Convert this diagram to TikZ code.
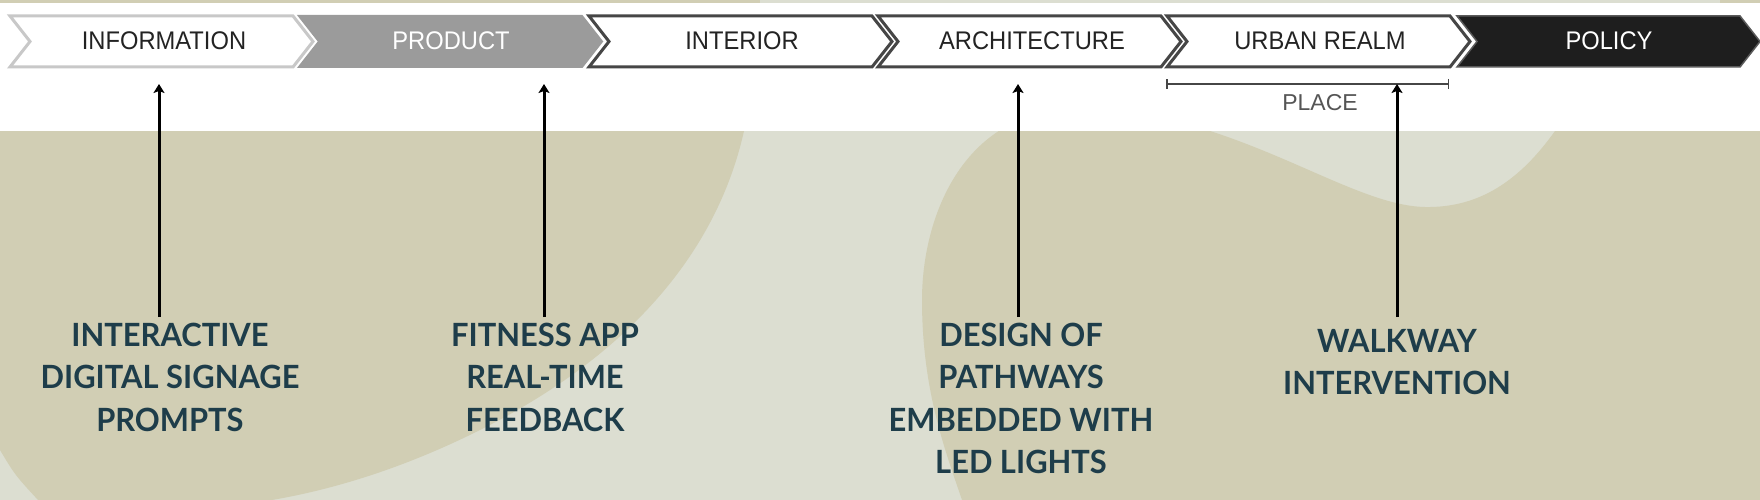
\documentclass[tikz,border=0pt]{standalone}
\usepackage{fontspec}
\setmainfont{Liberation Sans}
\newfontfamily\chevfont[FakeStretch=0.93]{Liberation Sans}
\newfontfamily\labfont[FakeStretch=0.965]{Lato}
\usetikzlibrary{arrows.meta}
\definecolor{khaki}{RGB}{209,206,180}
\definecolor{pale}{RGB}{220,222,209}
\definecolor{labcol}{RGB}{30,61,74}
\definecolor{lightedge}{RGB}{200,200,200}
\definecolor{darkedge}{RGB}{70,70,70}
\definecolor{prodgray}{RGB}{155,155,155}
\definecolor{polblack}{RGB}{30,30,30}
\definecolor{poledge}{RGB}{90,90,90}
\definecolor{placegray}{RGB}{85,85,85}
\definecolor{chevtextcol}{RGB}{35,35,35}
\begin{document}
\begin{tikzpicture}[x=1pt,y=-1pt,
  chevlight/.style={fill=white,draw=lightedge,line width=3pt,line join=miter},
  chevgray/.style={fill=prodgray,draw=prodgray,line width=2pt,line join=miter},
  chevdark/.style={fill=white,draw=darkedge,line width=3pt,line join=miter},
  chevblack/.style={fill=polblack,draw=poledge,line width=1.5pt,line join=miter},
  chevtext/.style={font=\chevfont\fontsize{25.5}{28}\selectfont,inner sep=0pt,text=chevtextcol},
  labtext/.style={font=\labfont\bfseries\fontsize{32}{42.5}\selectfont,text=labcol,align=center,anchor=north,inner xsep=0pt},
  arr/.style={line width=3pt,-{Stealth[length=9pt,width=11pt,inset=2pt]}},
  bracket/.style={line width=1.5pt,draw=darkedge,{Bar[width=10pt]}-{Bar[width=10pt]}},
]
\useasboundingbox (0,0) rectangle (1760,500);
% background
\fill[pale] (0,0) rectangle (1760,500);
% left blob
\fill[khaki] (0,120) -- (750,120) -- (744,131) .. controls (715,260) and (620,360) .. (480,430)
  .. controls (400,470) and (330,490) .. (272,500) -- (38,500) .. controls (15,475) .. (0,450) -- cycle;
% right blob with dip
\fill[khaki] (1060,110) .. controls (960,120) and (922,220) .. (922,300)
  .. controls (922,390) and (945,450) .. (962,500) -- (1760,500) -- (1760,120) -- (1560,120) -- (1555,131)
  .. controls (1520,180) and (1480,208) .. (1425,207)
  .. controls (1370,206) and (1300,160) .. (1210,131) -- (1200,110) -- cycle;
% white band and top strip
\fill[white] (0,3) rectangle (1760,131);
\fill[khaki] (0,0) rectangle (760,3);
\fill[khaki] (1720,0) rectangle (1760,3);
% chevrons
\path[chevlight] (10,16) -- ++(283,0) -- ++(20,25.5) -- ++(-20,25.5) -- ++(-283,0) -- ++(20,-25.5) -- cycle;
\path[chevgray] (299,16) -- ++(283,0) -- ++(20,25.5) -- ++(-20,25.5) -- ++(-283,0) -- ++(20,-25.5) -- cycle;
\path[chevdark] (589,16) -- ++(283,0) -- ++(20,25.5) -- ++(-20,25.5) -- ++(-283,0) -- ++(20,-25.5) -- cycle;
\path[chevdark] (878,16) -- ++(283,0) -- ++(20,25.5) -- ++(-20,25.5) -- ++(-283,0) -- ++(20,-25.5) -- cycle;
\path[chevdark] (1167,16) -- ++(283,0) -- ++(20,25.5) -- ++(-20,25.5) -- ++(-283,0) -- ++(20,-25.5) -- cycle;
\path[chevblack] (1457,16) -- ++(283,0) -- ++(20,25.5) -- ++(-20,25.5) -- ++(-283,0) -- ++(20,-25.5) -- cycle;
\node[chevtext] (cInfo) at (164,41) {INFORMATION};
\node[chevtext,text=white] (cProd) at (451,41) {PRODUCT};
\node[chevtext] (cInt) at (742,41) {INTERIOR};
\node[chevtext] (cArch) at (1032,41) {ARCHITECTURE};
\node[chevtext] (cUrb) at (1320,41) {URBAN REALM};
\node[chevtext,text=white] (cPol) at (1609,41) {POLICY};
% place bracket
\coordinate (p1) at (1166,84);
\coordinate (p2) at (1449,84);
\draw[bracket] (p1) -- (p2);
\node[font=\fontsize{23}{26}\selectfont,text=placegray,inner sep=0pt] (place) at (1320,103) {PLACE};
% labels
\node[labtext,inner ysep=5.6pt] (l1) at (170,317) {INTERACTIVE\\DIGITAL SIGNAGE\\PROMPTS};
\node[labtext,inner ysep=5.6pt] (l2) at (545,317) {FITNESS APP\\REAL-TIME\\FEEDBACK};
\node[labtext,inner ysep=5.6pt] (l3) at (1021,317) {DESIGN OF\\PATHWAYS\\EMBEDDED WITH\\LED LIGHTS};
\node[labtext,inner ysep=12pt] (l4) at (1397,317) {WALKWAY\\INTERVENTION};
% arrow tips
\coordinate (t1) at (159,84);
\coordinate (t2) at (544,84);
\coordinate (t3) at (1018,84);
\coordinate (t4) at (1397,84);
\draw[arr] (l1.north -| t1) -- (t1);
\draw[arr] (l2.north -| t2) -- (t2);
\draw[arr] (l3.north -| t3) -- (t3);
\draw[arr] (l4.north -| t4) -- (t4);
\end{tikzpicture}
\end{document}
